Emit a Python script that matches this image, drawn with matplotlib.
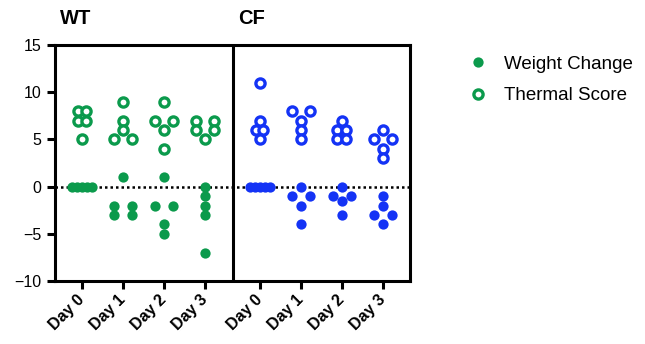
import matplotlib
matplotlib.use("Agg")
import matplotlib.pyplot as plt
from matplotlib.lines import Line2D

days = ["Day 0", "Day 1", "Day 2", "Day 3"]
groups = ["WT", "CF"]

wt_weight = [[0, 0, 0, 0, 0], [1, -2, -2, -3, -3], [1, -2, -2, -4, -5], [0, -1, -2, -3, -7]]
wt_thermal = [[8, 8, 7, 7, 5], [9, 7, 6, 5, 5], [9, 7, 7, 6, 4], [7, 7, 6, 6, 5]]
cf_weight = [[0, 0, 0, 0, 0], [0, -1, -1, -2, -4], [0, -1, -1, -1.5, -3], [-1, -2, -3, -3, -4]]
cf_thermal = [[11, 7, 6, 6, 5], [8, 8, 7, 6, 5], [7, 6, 6, 5, 5], [6, 5, 5, 4, 3]]

green = "#0b9a4c"
blue = "#1433f5"

# how far apart a pair of equal values sits (per group), default is wide
tight_pairs = {("WT", "thermal", 0): 0.10, ("CF", "thermal", 0): 0.085,
               ("CF", "thermal", 2): 0.11}


def spread(vals, pair_dx=0.22, row_dx=0.12):
    counts = {}
    for v in vals:
        counts[v] = counts.get(v, 0) + 1
    seen = {}
    offs = []
    for v in vals:
        n = counts[v]
        k = seen.get(v, 0)
        seen[v] = k + 1
        if n == 1:
            offs.append(0.0)
        elif n == 2:
            offs.append(-pair_dx if k == 0 else pair_dx)
        else:
            offs.append((k - (n - 1) / 2) * row_dx)
    return offs


plt.rcParams["font.family"] = ["Liberation Sans", "DejaVu Sans"]

fig = plt.figure(figsize=(6.45, 3.44), dpi=100)
ax = fig.add_axes([0.085, 0.183, 0.551, 0.686])

gap = 4.33
series = {"WT": (wt_weight, wt_thermal, green, 0.0),
          "CF": (cf_weight, cf_thermal, blue, gap)}

xticks = []
for g in groups:
    weight, thermal, col, x0 = series[g]
    for i in range(len(days)):
        xc = x0 + i
        xticks.append(xc)
        offs = spread(weight[i])
        ax.plot([xc + o for o in offs], weight[i], "o", color=col, ms=7.4,
                mec=col, mew=0, zorder=3, clip_on=False)
        pdx = tight_pairs.get((g, "thermal", i), 0.22)
        offs = spread(thermal[i], pair_dx=pdx)
        ax.plot([xc + o for o in offs], thermal[i], "o", mfc="white", mec=col,
                ms=6.6, mew=2.4, zorder=3, clip_on=False)

ax.axhline(0, color="black", ls=(0, (1, 1.2)), lw=1.8, zorder=2)
ax.axvline(3.67, color="black", lw=2.2, zorder=4)

ax.set_xlim(-0.67, 8.0)
ax.set_ylim(-10, 15)
ax.set_yticks([-10, -5, 0, 5, 10, 15])
ax.set_yticklabels(["\u221210", "\u22125", "0", "5", "10", "15"])
ax.set_xticks(xticks)
ax.set_xticklabels(days * 2, rotation=45, ha="right", va="center",
                   rotation_mode="anchor", fontweight="bold", fontsize=12)
ax.tick_params(axis="both", width=2.2, length=6, labelsize=11.5)
ax.tick_params(axis="x", pad=6)
for s in ax.spines.values():
    s.set_linewidth(2.2)

fig.text(60 / 645, 1 - 18 / 344, "WT", fontsize=14.5, fontweight="bold", va="center")
fig.text(238 / 645, 1 - 18 / 344, "CF", fontsize=14.5, fontweight="bold", va="center")

handles = [Line2D([], [], marker="o", ls="", color=green, ms=7.4, mew=0),
           Line2D([], [], marker="o", ls="", mfc="white", mec=green, ms=6.6, mew=2.4)]
fig.legend(handles, ["Weight Change", "Thermal Score"], loc="upper left",
           bbox_to_anchor=(450 / 645, 1 - 39 / 344), frameon=False, fontsize=13.5,
           handlelength=1.2, handletextpad=0.8, labelspacing=0.75)

fig.savefig("out.png", dpi=100)
